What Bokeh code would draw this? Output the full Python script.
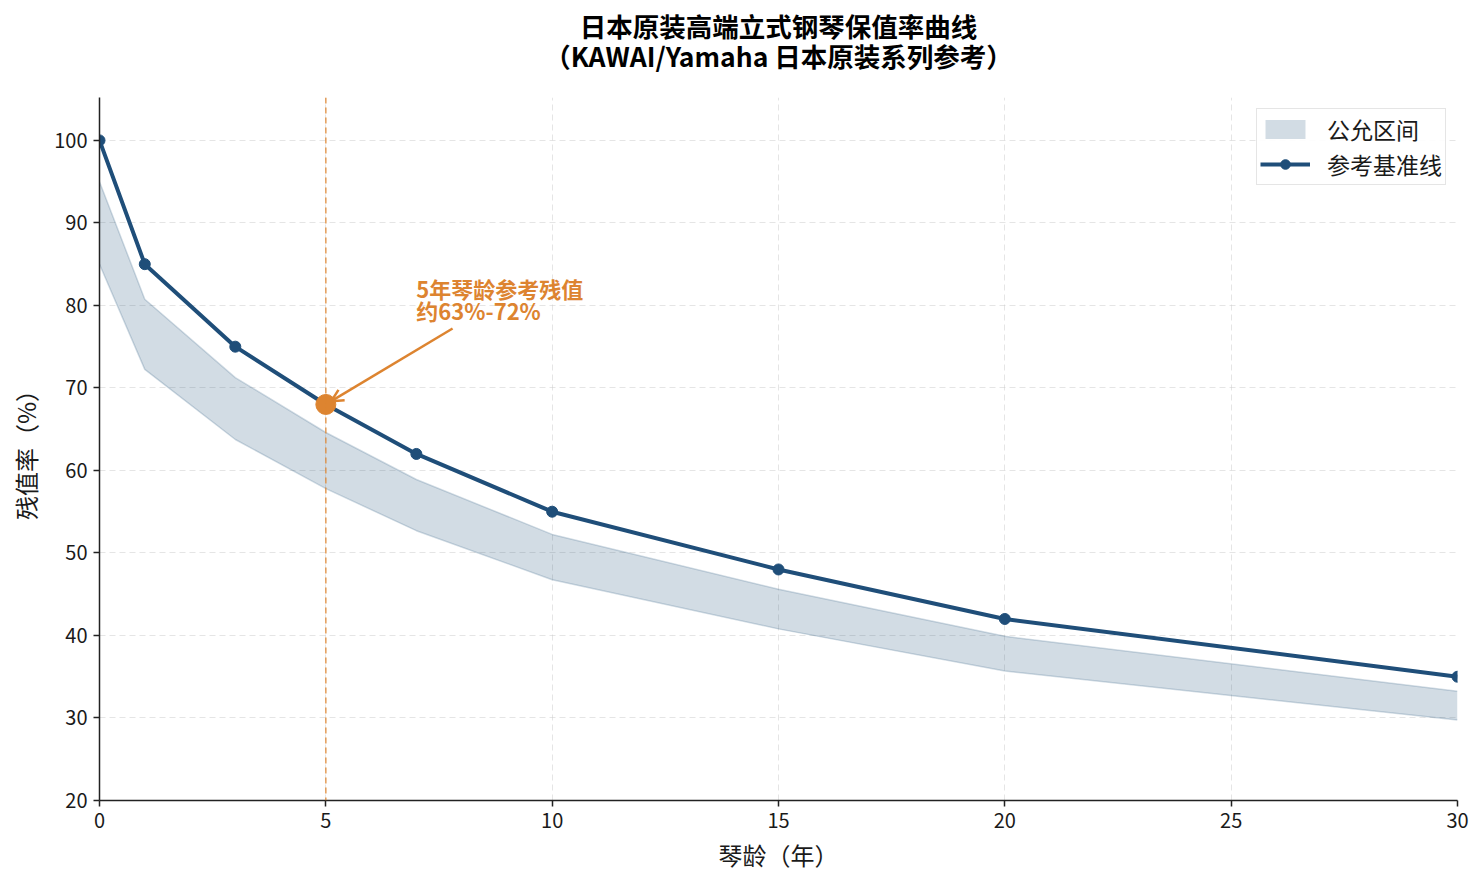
import numpy as np

from bokeh.plotting import figure
from bokeh.models import (ColumnDataSource, Span, Label, Arrow, OpenHead,
                          Legend, LegendItem, FixedTicker, Range1d, Title)
from bokeh.embed import file_html
from bokeh.resources import INLINE

# piano age (years) and reference residual value (%)
years = [0, 1, 3, 5, 7, 10, 15, 20, 30]
baseline = [100, 85, 75, 68, 62, 55, 48, 42, 35]
# fair value band (%)
band_upper = [95.0, 80.75, 71.25, 64.6, 58.9, 52.25, 45.6, 39.9, 33.25]
band_lower = [85.0, 72.25, 63.75, 57.8, 52.7, 46.75, 40.8, 35.7, 29.75]

x_ticks = [0, 5, 10, 15, 20, 25, 30]
y_ticks = [20, 30, 40, 50, 60, 70, 80, 90, 100]

highlight_year = 5
note_lines = ["5年琴龄参考残值", "约63%-72%"]
title_lines = ["日本原装高端立式钢琴保值率曲线", "（KAWAI/Yamaha 日本原装系列参考）"]

FONT = "Noto Sans CJK SC"
BLUE = "#1f4e79"
ORANGE = "#dd8430"
INK = "#1a1a1a"

src = ColumnDataSource(data=dict(x=years, y=baseline,
                                 lo=band_lower, hi=band_upper))

p = figure(width=1476, height=868, output_backend="svg", toolbar_location=None,
           frame_width=1358, frame_height=703,
           min_border_left=99, min_border_right=19,
           min_border_top=97, min_border_bottom=68,
           x_range=Range1d(0, 30), y_range=Range1d(20, 105.2))

p.outline_line_color = None
p.background_fill_color = "white"

# title: second line first (nearest the frame), then the first line;
# the negative standoff pulls the first line down so the two sit close
t2 = Title(text=title_lines[1], align="center", vertical_align="bottom",
           text_font=FONT, text_font_size="26.5px", text_font_style="bold",
           text_color="black", standoff=46)
t1 = Title(text=title_lines[0], align="center", vertical_align="bottom",
           text_font=FONT, text_font_size="26.5px", text_font_style="bold",
           text_color="black", standoff=0)
try:
    t1.standoff = -68
except ValueError:
    t2.standoff = 20
p.add_layout(t2, "above")
p.add_layout(t1, "above")

# band
band = p.varea(x="x", y1="lo", y2="hi", source=src,
               fill_color=BLUE, fill_alpha=0.2)
p.line(x="x", y="hi", source=src, line_color=BLUE, line_alpha=0.2, line_width=1.5)
p.line(x="x", y="lo", source=src, line_color=BLUE, line_alpha=0.2, line_width=1.5)

# highlight vertical line
vline = Span(location=highlight_year, dimension="height", line_color=ORANGE,
             line_alpha=0.8, line_dash="6 4", line_width=1.5)
p.add_layout(vline)

# baseline
ln = p.line(x="x", y="y", source=src, line_color=BLUE, line_width=4)
pts = p.scatter(x="x", y="y", source=src, size=11, fill_color=BLUE, line_color=BLUE)

# highlight point
hl_val = baseline[years.index(highlight_year)]
p.scatter(x=[highlight_year], y=[hl_val], size=20, fill_color=ORANGE,
          line_color=ORANGE)

# annotation
p.add_layout(Arrow(end=OpenHead(line_color=ORANGE, line_width=2.5, size=12),
                   x_start=7.8, y_start=77.2,
                   x_end=highlight_year + 0.12, y_end=hl_val + 0.4,
                   line_color=ORANGE, line_width=2.5))
for i, txt in enumerate(note_lines):
    p.add_layout(Label(x=7.0, y=82.1 - i * 2.65, text=txt, text_color=ORANGE,
                       text_font=FONT, text_font_size="22px",
                       text_font_style="bold", text_baseline="alphabetic"))

# axes
p.xaxis.ticker = FixedTicker(ticks=x_ticks)
p.yaxis.ticker = FixedTicker(ticks=y_ticks)
p.xaxis.axis_label = "琴龄（年）"
p.yaxis.axis_label = "残值率（%）"
for ax in (p.xaxis[0], p.yaxis[0]):
    ax.axis_label_text_font = FONT
    ax.axis_label_text_font_size = "24px"
    ax.axis_label_text_font_style = "normal"
    ax.axis_label_text_color = INK
    ax.major_label_text_font = FONT
    ax.major_label_text_font_size = "20px"
    ax.major_label_text_color = INK
    ax.axis_line_color = "#222222"
    ax.axis_line_width = 1.5
    ax.major_tick_line_color = "#222222"
    ax.major_tick_line_width = 1.5
    ax.major_tick_in = 0
    ax.major_tick_out = 6
    ax.minor_tick_line_color = None
p.xaxis.axis_label_standoff = 6
p.yaxis.axis_label_standoff = 8
p.xaxis.major_label_standoff = 6
p.yaxis.major_label_standoff = 6

p.xgrid.grid_line_color = "#cccccc"
p.ygrid.grid_line_color = "#cccccc"
p.xgrid.grid_line_alpha = 0.5
p.ygrid.grid_line_alpha = 0.5
p.xgrid.grid_line_dash = "6 4"
p.ygrid.grid_line_dash = "6 4"

legend = Legend(items=[LegendItem(label="公允区间", renderers=[band]),
                       LegendItem(label="参考基准线", renderers=[ln, pts])],
                location="top_right", margin=11, padding=3, spacing=1,
                glyph_width=50, glyph_height=24, label_standoff=17,
                label_text_font=FONT, label_text_font_size="23px",
                label_text_color=INK,
                border_line_color="#cccccc", border_line_width=1.5,
                background_fill_alpha=0.9)
p.add_layout(legend)

open("out.html", "w").write(file_html(p, INLINE))
